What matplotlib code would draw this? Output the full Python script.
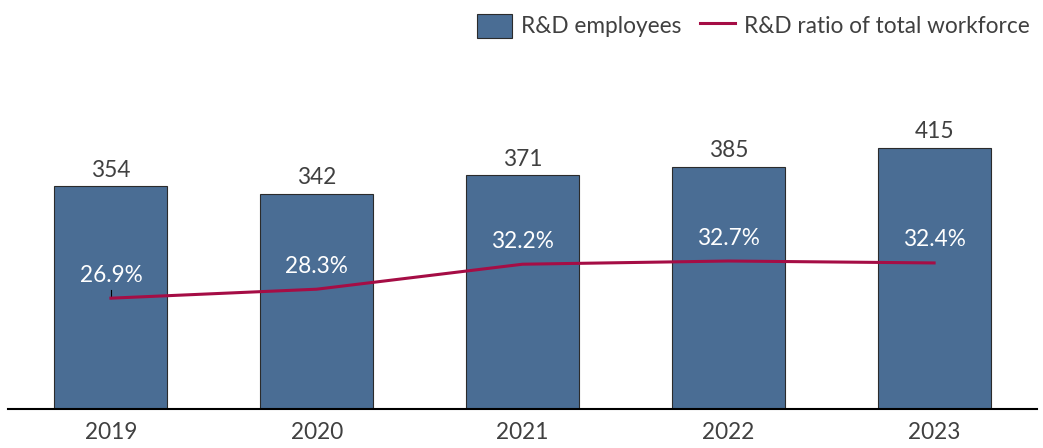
import matplotlib
matplotlib.use("Agg")
import matplotlib.pyplot as plt
from matplotlib.patches import Patch
from matplotlib.lines import Line2D

plt.rcParams["font.family"] = ["Lato", "DejaVu Sans"]

years = ["2019", "2020", "2021", "2022", "2023"]
employees = [354, 342, 371, 385, 415]
ratio = [26.9, 28.3, 32.2, 32.7, 32.4]

BAR_COLOR = "#4a6d94"
LINE_COLOR = "#a50d45"
TEXT_COLOR = "#404040"
FS = 16.3

fig = plt.figure(figsize=(10.43, 4.48), dpi=100)
# axes: left 8px, right 1037px, bottom baseline at y=409 px, top at 40 px
ax = fig.add_axes([8 / 1043, (448 - 409) / 448, 1029 / 1043, 369 / 448])
x = list(range(len(years)))

ax.bar(x, employees, width=0.55, color=BAR_COLOR, edgecolor="#2b2b2b",
       linewidth=0.8, zorder=2)
for xi, v in zip(x, employees):
    ax.annotate(f"{v}", (xi, v), xytext=(0, 4), textcoords="offset points",
                ha="center", va="bottom", fontsize=FS, color=TEXT_COLOR)

ax.set_xlim(-0.5, 4.5)
ax.set_ylim(0, 586)
ax.set_xticks(x)
ax.set_xticklabels(years, fontsize=FS, color=TEXT_COLOR)
ax.tick_params(axis="x", length=0, pad=9)
ax.set_yticks([])
for side in ["left", "right", "top"]:
    ax.spines[side].set_visible(False)
ax.spines["bottom"].set_linewidth(1.5)
ax.spines["bottom"].set_color("black")

ax2 = ax.twinx()
ax2.set_ylim(9.6, 67.2)
ax2.plot(x, ratio, color=LINE_COLOR, linewidth=2.2, zorder=3)
ax2.plot([0, 0], [ratio[0], ratio[0] + 1.2], color="black", linewidth=0.8)
for xi, v in zip(x, ratio):
    ax2.annotate(f"{v:.1f}%", (xi, v), xytext=(0, 9), textcoords="offset points",
                 ha="center", va="bottom", fontsize=FS, color="white")
ax2.set_yticks([])
for side in ["left", "right", "top", "bottom"]:
    ax2.spines[side].set_visible(False)

handles = [
    Patch(facecolor=BAR_COLOR, edgecolor="#2b2b2b", linewidth=0.8),
    Line2D([0], [0], color=LINE_COLOR, linewidth=2.2),
]
fig.legend(handles, ["R&D employees", "R&D ratio of total workforce"],
           loc="upper right", bbox_to_anchor=(1.0, 1.0), ncol=2, frameon=False,
           fontsize=FS, labelcolor=TEXT_COLOR, handlelength=1.55,
           handleheight=1.25, columnspacing=0.8, handletextpad=0.4,
           borderaxespad=0.2)

fig.savefig("out.png", dpi=100)
